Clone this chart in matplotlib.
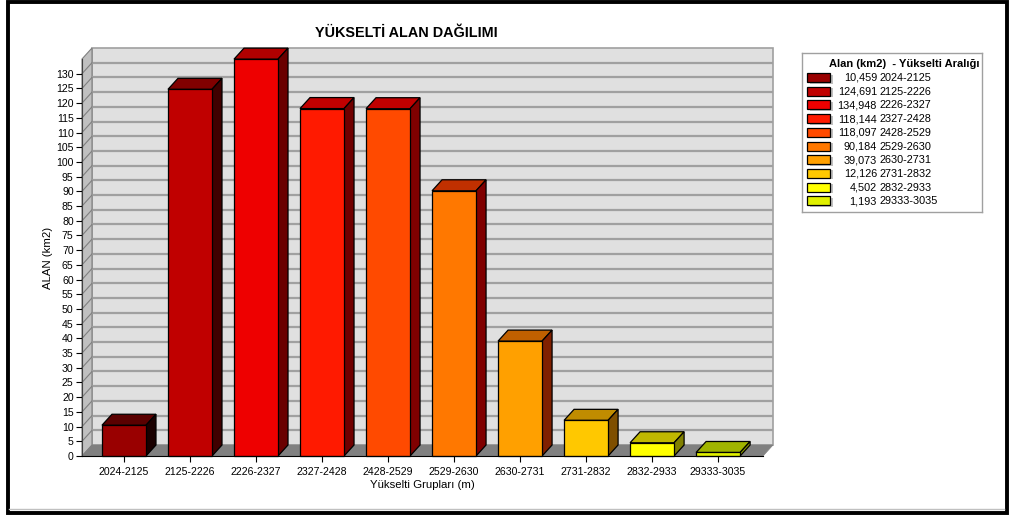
import matplotlib
matplotlib.use('Agg')
import matplotlib.pyplot as plt
from matplotlib.patches import Polygon, Rectangle
import numpy as np

plt.rcParams['font.family'] = ['Liberation Sans', 'DejaVu Sans']

# Data
groups = ['2024-2125', '2125-2226', '2226-2327', '2327-2428', '2428-2529',
          '2529-2630', '2630-2731', '2731-2832', '2832-2933', '29333-3035']
areas = [10.459, 124.691, 134.948, 118.144, 118.097, 90.184, 39.073, 12.126, 4.502, 1.193]
area_labels = ['10,459', '124,691', '134,948', '118,144', '118,097',
               '90,184', '39,073', '12,126', '4,502', '1,193']

# front / top / side colours of each bar
front_colors = ['#990000', '#c00000', '#ee0000', '#ff1a00', '#ff4a00',
                '#ff7800', '#ffa000', '#ffc800', '#ffff00', '#e0f000']
top_colors = ['#5a0000', '#800000', '#b00000', '#c00000', '#c00000',
              '#c03000', '#c06000', '#c08c00', '#c0b800', '#a0b400']
side_colors = ['#1a0000', '#400000', '#6a0000', '#700000', '#800000',
               '#800000', '#802000', '#7f4f00', '#808000', '#8a9a00']

W, H = 1009, 515
fig = plt.figure(figsize=(W / 100, H / 100), dpi=100)

# outer frame
fig.patches.append(Rectangle((7.5 / W, 2 / H), 999 / W, 511 / H, transform=fig.transFigure,
                             fill=False, edgecolor='black', linewidth=2.8))
fig.lines.append(plt.Line2D([9 / W, 1004 / W], [6.5 / H, 6.5 / H], transform=fig.transFigure,
                            color='#c0c0c0', linewidth=1))

# main axes = front plane of the 3D box
x0, x1, yb, yt = 82, 763, 456, 59
ax = fig.add_axes([x0 / W, (H - yb) / H, (x1 - x0) / W, (yb - yt) / H])
xmin, xmax = -0.636, 9.68
ymax = 135
ax.set_xlim(xmin, xmax)
ax.set_ylim(0, ymax)
ppx = (x1 - x0) / (xmax - xmin)
ppy = (yb - yt) / ymax
dx = 10 / ppx
dy = 11 / ppy

grid_c = '#a0a0a0'
# back wall
ax.add_patch(Polygon([(xmin + dx, dy), (xmax + dx, dy), (xmax + dx, ymax + dy), (xmin + dx, ymax + dy)],
                     closed=True, facecolor='#e0e0e0', edgecolor=grid_c, linewidth=1.2,
                     clip_on=False, zorder=0))
# left wall
ax.add_patch(Polygon([(xmin, 0), (xmin + dx, dy), (xmin + dx, ymax + dy), (xmin, ymax)],
                     closed=True, facecolor='#c0c0c0', edgecolor='#808080', linewidth=0.8,
                     clip_on=False, zorder=0.5))
# grid lines on the walls
for v in range(5, 131, 5):
    ax.plot([xmin + dx, xmax + dx], [v + dy, v + dy], color=grid_c, linewidth=1.6,
            clip_on=False, zorder=0.6, solid_capstyle='butt')
    ax.plot([xmin, xmin + dx], [v, v + dy], color='#808080', linewidth=0.8,
            clip_on=False, zorder=0.6)
# floor
ax.add_patch(Polygon([(xmin, 0), (xmax, 0), (xmax + dx, dy), (xmin + dx, dy)],
                     closed=True, facecolor='#808080', edgecolor='#808080', linewidth=0.5,
                     clip_on=False, zorder=0.7))

# bars
bw = 44 / ppx
for i, v in enumerate(areas):
    l, r = i - bw / 2, i + bw / 2
    z = 2 + i * 0.01
    ax.add_patch(Polygon([(l, v), (r, v), (r + dx, v + dy), (l + dx, v + dy)], closed=True,
                         facecolor=top_colors[i], edgecolor='black', linewidth=0.9,
                         clip_on=False, zorder=z))
    ax.add_patch(Polygon([(r, 0), (r + dx, dy), (r + dx, v + dy), (r, v)], closed=True,
                         facecolor=side_colors[i], edgecolor='black', linewidth=0.9,
                         clip_on=False, zorder=z))
    ax.add_patch(Rectangle((l, 0), bw, v, facecolor=front_colors[i], edgecolor='black',
                           linewidth=0.9, clip_on=False, zorder=z + 0.005))

for s in ['top', 'right']:
    ax.spines[s].set_visible(False)
ax.spines['left'].set_color('#404040')
ax.spines['left'].set_linewidth(0.8)
ax.spines['bottom'].set_color('black')
ax.spines['bottom'].set_linewidth(0.8)
ax.set_facecolor('none')

ax.set_yticks(range(0, 131, 5))
ax.set_xticks(range(len(groups)))
ax.set_xticklabels(groups)
ax.tick_params(axis='both', labelsize=7.6, length=4, width=0.8, pad=2)
ax.tick_params(axis='x', pad=4)
ax.set_ylabel('ALAN (km2)', fontsize=8.2, labelpad=2)
ax.set_xlabel('Yükselti Grupları (m)', fontsize=8.2, labelpad=2)

fig.text(406 / W, 1 - 33 / H, 'YÜKSELTİ ALAN DAĞILIMI', ha='center', va='center',
         fontsize=10.4, fontweight='bold')

# legend drawn in its own pixel-based axes
lx, ly, lw_, lh = 802, 53, 180, 159
lax = fig.add_axes([lx / W, (H - ly - lh) / H, lw_ / W, lh / H])
lax.set_xlim(0, lw_)
lax.set_ylim(lh, 0)
lax.set_xticks([])
lax.set_yticks([])
for s in lax.spines.values():
    s.set_color('#a0a0a0')
    s.set_linewidth(1)
lax.text(27, 11, 'Alan (km2)  - Yükselti Aralığı', fontsize=8, fontweight='bold',
         ha='left', va='center')
for i in range(len(groups)):
    cy = 25 + i * 13.7
    lax.add_patch(Rectangle((8, cy - 3.5), 23, 9, facecolor='#c0c0c0', edgecolor='none'))
    lax.add_patch(Rectangle((5, cy - 5), 23, 9, facecolor=front_colors[i], edgecolor='black',
                            linewidth=0.9))
    lax.text(75, cy, area_labels[i], fontsize=7.8, ha='right', va='center')
    lax.text(77, cy, groups[i], fontsize=7.8, ha='left', va='center')

fig.savefig('out.png', dpi=100)
